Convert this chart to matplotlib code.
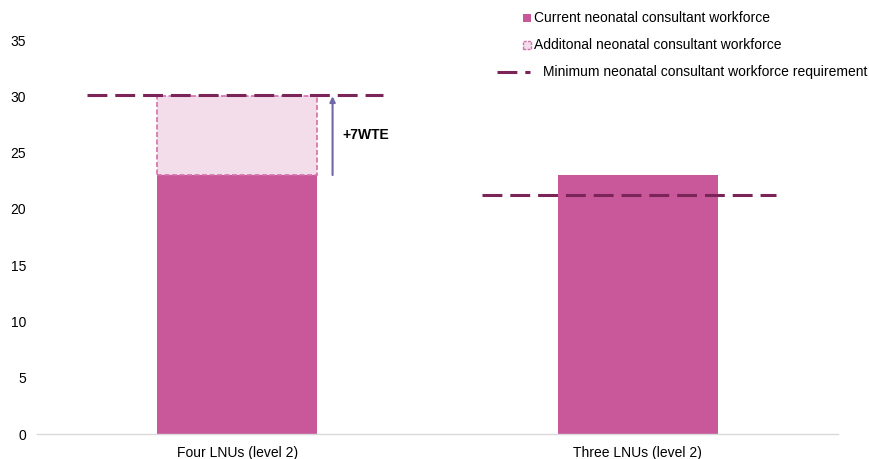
import matplotlib
matplotlib.use("Agg")
import matplotlib.pyplot as plt
from matplotlib.patches import Rectangle
from matplotlib.lines import Line2D
import numpy as np

categories = ["Four LNUs (level 2)", "Three LNUs (level 2)"]
current = [23, 23]
additional = [7, 0]
minimum = [30.1, 21.2]
yticks = [0, 5, 10, 15, 20, 25, 30, 35]
annotation = "+7WTE"

plt.rcParams['font.family'] = ['Liberation Sans', 'DejaVu Sans']

BAR = "#C9589B"
LIGHT = "#F3DDEA"
LIGHT_EDGE = "#D46FAA"
DASH = "#7A2458"
ARROW = "#6F67A8"
FS = 10

fig = plt.figure(figsize=(8.7, 4.59), dpi=100)
ax = fig.add_axes([37/870, 1-434/459, (838-37)/870, (434-40)/459])

x = np.arange(len(categories))
w = 0.4
ax.bar(x, current, width=w, color=BAR, zorder=2)
for xi, c, a in zip(x, current, additional):
    if a > 0:
        ax.bar(xi, a, width=w, bottom=c, color=LIGHT, edgecolor=LIGHT_EDGE,
               linewidth=1.2, linestyle=(0, (3, 1.5)), zorder=2)

offs = [(-0.375, 0.365), (-0.39, 0.345)]
for xi, m, (a, b) in zip(x, minimum, offs):
    ax.plot([xi + a, xi + b], [m, m], color=DASH, lw=2.2,
            linestyle=(0, (6.5, 2.6)), zorder=3, dash_capstyle='butt')

ax.annotate("", xy=(0.238, current[0] + additional[0]), xytext=(0.238, current[0]),
            arrowprops=dict(arrowstyle="-|>", color=ARROW, lw=1.5, mutation_scale=8,
                            shrinkA=0, shrinkB=0), zorder=4)
ax.text(0.262, 26.6, annotation, fontsize=FS, fontweight='bold', va='center', ha='left')

ax.set_xlim(-0.5, 1.5)
ax.set_ylim(0, 35)
ax.set_yticks(yticks)
ax.set_xticks(x)
ax.set_xticklabels(categories)
ax.tick_params(axis='both', length=0, labelsize=FS, colors='#000000')
ax.tick_params(axis='y', pad=8)
ax.tick_params(axis='x', pad=9)
for s in ['top', 'right', 'left']:
    ax.spines[s].set_visible(False)
ax.spines['bottom'].set_color('#D9D9D9')
ax.spines['bottom'].set_linewidth(1)

# Legend (manual)
def fx(px):
    return px / 870
def fy(py):
    return 1 - py / 459

fig.add_artist(Rectangle((fx(523), fy(22)), 8/870, 8/459, transform=fig.transFigure,
                         facecolor=BAR, edgecolor='none'))
fig.text(fx(534), fy(18), "Current neonatal consultant workforce", fontsize=FS, va='center', ha='left')
fig.add_artist(Rectangle((fx(523), fy(49)), 8/870, 8/459, transform=fig.transFigure,
                         facecolor=LIGHT, edgecolor=LIGHT_EDGE, linewidth=1.0,
                         linestyle=(0, (2, 1))))
fig.text(fx(534), fy(45), "Additonal neonatal consultant workforce", fontsize=FS, va='center', ha='left')
fig.add_artist(Line2D([fx(497), fx(530)], [fy(72), fy(72)], transform=fig.transFigure,
                      color=DASH, lw=2.2, linestyle=(0, (6.5, 2.6)), dash_capstyle='butt'))
fig.text(fx(543), fy(72), "Minimum neonatal consultant workforce requirement", fontsize=FS,
         va='center', ha='left')

fig.savefig("out.png", dpi=100)
